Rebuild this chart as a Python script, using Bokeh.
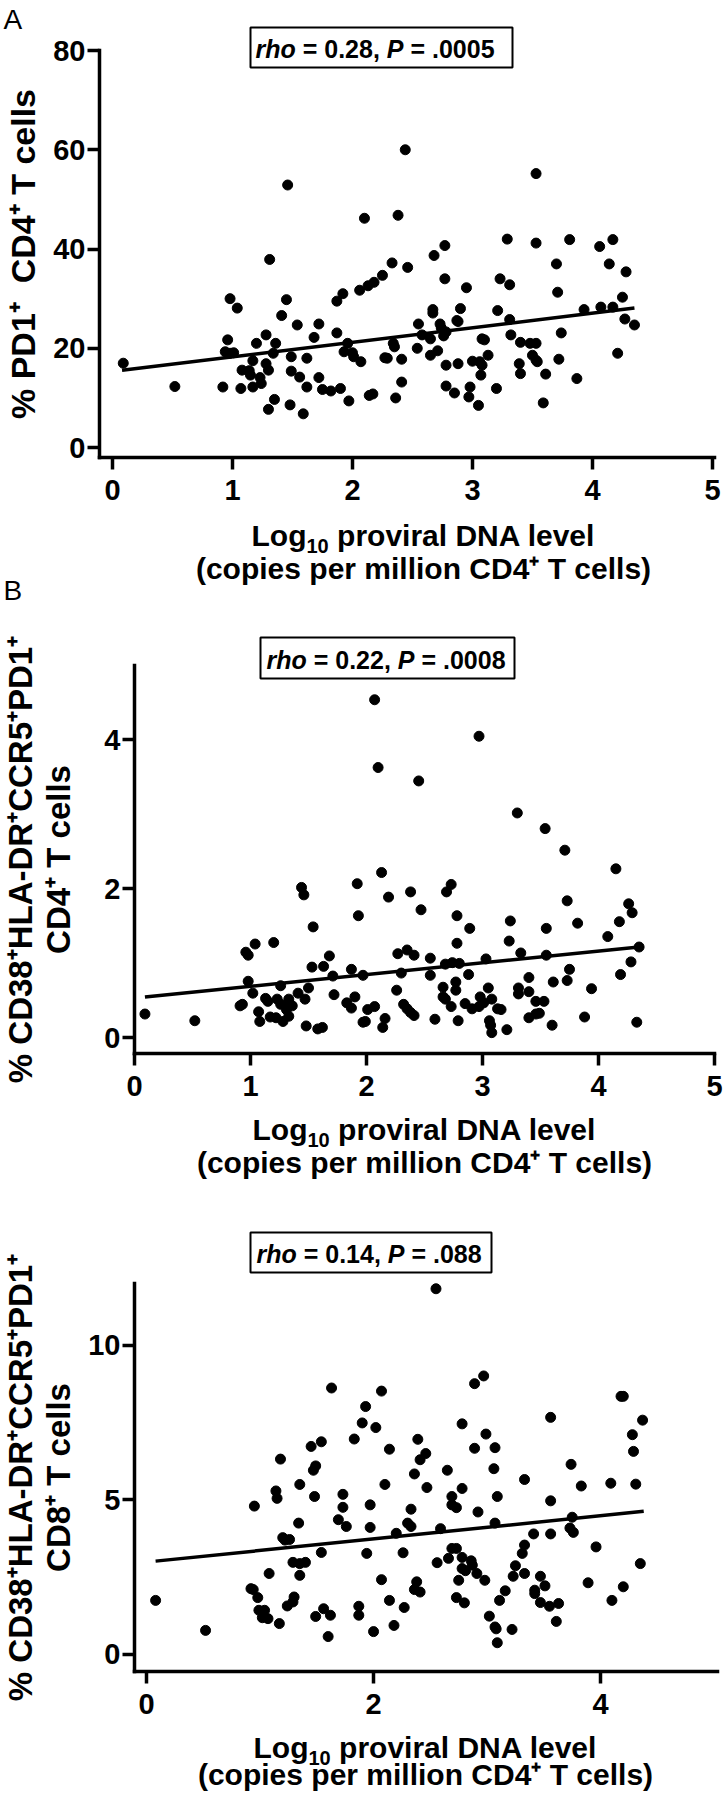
from bokeh.plotting import figure
from bokeh.models import Range1d, FixedTicker, Label, BoxAnnotation
from bokeh.layouts import column
from bokeh.embed import file_html
from bokeh.resources import INLINE

# ---------------- data ----------------
a_x = [2.44, 1.46, 3.53, 2.10, 2.38, 1.31, 3.29, 3.53, 3.81, 4.06, 4.17, 2.77, 2.68, 2.33, 2.46, 3.70, 4.14, 4.28,
       2.25, 2.77, 3.23, 3.31, 2.95, 2.18, 2.13, 2.06, 1.92, 3.71, 4.25, 0.98, 1.45, 1.87,
       1.04, 1.41, 3.93, 4.07, 4.17, 2.67, 2.67, 2.90, 3.21, 3.31, 4.27, 4.35, 4.21, 1.54, 1.72, 2.55, 2.73, 2.74,
       2.87, 2.88, 2.78, 3.74, 3.32, 2.58, 1.87, 1.68, 1.28, 0.96, 2.65, 2.76, 3.08, 3.10, 3.40, 3.48, 3.53, 1.36,
       1.20, 2.34, 1.96, 2.35, 2.54, 2.71, 0.94, 1.01, 0.98, 1.34, 1.93, 2.00, 2.01, 2.65, 3.13, 3.50, 3.39, 1.49,
       1.62, 2.07, 2.27, 2.29, 2.41, 3.53, 3.72, 1.17, 3.00, 3.06, 3.08, 2.78, 2.88, 3.54, 1.28, 1.30, 1.08, 1.14,
       1.49, 3.40, 3.61, 3.07, 1.15, 1.23, 1.56, 1.72, 3.87, 2.41, 1.24, 0.52, 0.92, 1.07, 1.17, 1.62, 1.75, 1.82,
       1.90, 2.78, 2.85, 2.98, 3.20, 2.14, 2.17, 1.35, 1.97, 2.36, 2.97, 3.59, 1.48, 1.30, 3.05, 1.59, 0.09]
a_y = [60.0, 52.9, 55.2, 46.2, 46.8, 37.9, 42.0, 41.2, 41.9, 40.5, 41.9, 40.7, 38.7, 37.2, 36.3, 37.0, 37.0, 35.4,
       34.7, 34.0, 34.0, 32.8, 32.2, 33.3, 32.6, 31.7, 31.0, 31.3, 30.3, 30.0, 29.8, 29.5,
       28.1, 26.6, 27.8, 28.3, 28.3, 27.8, 27.1, 28.0, 27.6, 25.8, 25.9, 24.7, 19.0, 24.7, 24.9, 24.9, 24.9, 24.1,
       25.6, 25.4, 23.3, 23.1, 22.7, 22.7, 23.1, 22.2, 22.7, 21.7, 21.9, 22.5, 21.9, 21.7, 21.2, 21.0, 21.0, 21.0,
       21.0, 21.0, 21.0, 20.3, 20.0, 19.5, 19.3, 19.1, 19.0, 19.0, 19.3, 19.1, 18.3, 18.6, 18.6, 18.6, 16.9, 18.3,
       18.0, 17.3, 18.1, 18.0, 17.8, 17.6, 17.8, 17.5, 17.4, 17.3, 16.6, 16.6, 16.9, 17.3, 16.9, 15.6, 15.6, 15.5,
       15.4, 14.9, 14.8, 14.6, 14.6, 14.1, 14.2, 14.1, 13.9, 13.2, 12.9, 12.3, 12.2, 11.9, 12.2, 12.2, 11.7, 11.4,
       11.9, 12.4, 11.0, 12.2, 11.9, 10.5, 10.8, 9.7, 9.4, 10.0, 10.2, 9.0, 8.6, 7.7, 8.5, 6.8, 17.0]
a_fit_x = [0.08, 4.35]
a_fit_y = [15.6, 28.1]

b_x = [2.07, 2.97, 2.10, 2.45, 3.30, 3.54, 3.71, 4.15, 2.13, 1.92, 2.73, 1.44, 1.46, 2.38, 2.69, 2.19, 3.73, 4.26,
       4.29, 2.47, 1.93, 2.78, 3.24, 3.82, 4.18, 1.54, 2.89, 3.55,
       4.08, 3.23, 2.78, 1.04, 1.20, 0.96, 0.98, 2.27, 2.35, 2.41, 1.68, 2.55, 3.33, 3.55, 4.35, 4.28, 1.53, 1.63,
       2.68, 2.74, 2.80, 3.03, 1.87, 1.71, 1.97, 2.30, 2.55, 2.88, 3.75, 4.19, 0.98, 3.73, 3.61, 3.40, 2.77, 2.66,
       3.05, 1.02, 1.26, 1.50, 1.41, 1.72, 1.90, 2.26, 2.77, 3.31, 3.40, 3.94, 3.31, 1.13, 1.23, 1.15, 1.33, 1.47,
       2.66, 2.68, 2.98, 3.08, 3.46, 3.53, 0.91, 0.93, 1.26, 1.32, 1.36, 1.83, 1.87, 2.07, 2.01, 2.32, 2.35, 2.73,
       2.85, 2.91, 2.97, 3.01, 3.13, 3.16, 1.07, 1.31, 2.38, 2.41, 0.09, 1.17, 1.22, 1.33, 3.46, 3.49, 3.40, 3.88,
       0.52, 1.08, 1.28, 1.99, 1.97, 2.16, 2.59, 2.79, 3.06, 4.33, 1.48, 1.58, 1.62, 2.14, 3.07, 3.60, 3.08, 3.21]
b_y = [4.54, 4.05, 3.63, 3.45, 3.02, 2.81, 2.52, 2.27, 2.22, 2.07, 2.06, 2.02, 1.92, 1.96, 1.96, 1.89, 1.84, 1.80,
       1.68, 1.72, 1.64, 1.64, 1.57, 1.54, 1.56, 1.49, 1.47, 1.47,
       1.36, 1.30, 1.27, 1.26, 1.28, 1.15, 1.11, 1.13, 1.18, 1.11, 1.10, 1.07, 1.14, 1.11, 1.22, 1.02, 0.95, 0.96,
       0.99, 1.01, 1.00, 1.06, 0.92, 0.83, 0.84, 0.87, 0.84, 0.85, 0.92, 0.85, 0.76, 0.77, 0.75, 0.81, 0.75, 0.68,
       0.67, 0.60, 0.70, 0.67, 0.60, 0.58, 0.55, 0.64, 0.64, 0.67, 0.62, 0.66, 0.59, 0.53, 0.52, 0.49, 0.52, 0.52,
       0.55, 0.52, 0.55, 0.52, 0.49, 0.49, 0.43, 0.45, 0.45, 0.41, 0.43, 0.47, 0.40, 0.42, 0.38, 0.45, 0.39, 0.42,
       0.46, 0.39, 0.42, 0.47, 0.39, 0.38, 0.35, 0.38, 0.34, 0.30, 0.32, 0.28, 0.27, 0.29, 0.32, 0.33, 0.27, 0.28,
       0.23, 0.22, 0.22, 0.22, 0.21, 0.26, 0.25, 0.23, 0.23, 0.21, 0.16, 0.12, 0.14, 0.14, 0.17, 0.17, 0.07, 0.11]
b_fit_x = [0.09, 4.35]
b_fit_y = [0.55, 1.22]

c_x = [2.55, 2.97, 2.89, 1.63, 2.07, 4.18, 4.20, 1.93, 3.56, 4.37, 1.90, 2.02, 2.78, 2.99, 4.28, 1.83, 2.39, 1.54,
       1.45, 2.14, 2.89, 3.07, 2.46, 4.29, 1.18, 2.41, 3.74, 1.49, 1.47, 2.65, 3.06, 2.36, 3.33, 1.35, 2.10, 3.83,
       4.09, 4.31, 2.47, 2.78, 1.14, 1.15, 1.73, 1.48, 2.69, 3.09, 3.56, 0.95, 1.73, 1.97, 2.69, 2.73, 2.33, 2.92,
       3.75, 1.34, 1.69, 2.30, 3.07, 1.76, 1.97, 2.33, 2.59, 3.73,
       3.76, 2.20, 3.41, 3.56, 1.20, 1.26, 1.22, 3.33, 3.96, 3.31, 1.54, 1.94, 2.26, 2.69, 2.73, 2.66, 2.78, 2.56,
       2.86, 4.35, 1.29, 1.35, 1.40, 3.25, 2.78, 2.81, 2.87, 2.91, 1.08, 1.35, 3.23, 3.33, 3.47, 2.07, 2.75, 2.98,
       2.38, 3.89, 0.92, 0.94, 2.36, 2.41, 3.16, 3.42, 3.51, 4.20, 3.42, 0.08, 0.98, 1.30, 1.29, 1.24, 2.14, 2.73,
       2.80, 3.11, 3.47, 3.63, 3.55, 4.10, 0.99, 1.04, 1.02, 1.07, 1.56, 1.62, 1.49, 1.87, 1.87, 2.27, 1.17, 2.18,
       3.02, 3.07, 3.08, 3.22, 3.61, 0.52, 2.00, 1.60, 3.09]
c_y = [11.83, 9.01, 8.76, 8.62, 8.52, 8.35, 8.35, 8.02, 7.67, 7.58, 7.49, 7.34, 7.46, 7.13, 7.11, 6.97, 6.96, 6.88,
       6.73, 6.64, 6.67, 6.69, 6.50, 6.57, 6.32, 6.30, 6.15, 6.10, 5.96, 5.96, 6.01, 5.84, 5.66, 5.50, 5.50, 5.45,
       5.54, 5.51, 5.40, 5.37, 5.29, 5.05, 5.18, 5.11, 5.11, 5.11, 4.97, 4.80, 4.76, 4.84, 4.84, 4.75, 4.70, 4.61,
       4.44, 4.25, 4.36, 4.25, 4.25, 4.14, 4.11, 4.14, 4.07, 4.09,
       3.95, 3.92, 3.90, 3.90, 3.78, 3.72, 3.70, 3.54, 3.48, 3.27, 3.30, 3.27, 3.29, 3.43, 3.43, 3.11, 3.14, 2.97,
       3.03, 2.94, 2.98, 2.94, 2.98, 2.87, 2.78, 2.71, 2.89, 2.62, 2.62, 2.56, 2.53, 2.62, 2.53, 2.42, 2.40, 2.40,
       2.35, 2.32, 2.13, 2.10, 2.10, 2.02, 2.06, 2.08, 2.22, 2.19, 1.97, 1.75, 1.84, 1.86, 1.70, 1.57, 1.75, 1.84,
       1.67, 1.75, 1.68, 1.65, 1.56, 1.75, 1.43, 1.43, 1.19, 1.16, 1.48, 1.27, 1.23, 1.56, 1.27, 1.52, 1.00, 0.94,
       1.24, 0.89, 0.83, 0.81, 1.07, 0.78, 0.74, 0.58, 0.38]
c_fit_x = [0.08, 4.38]
c_fit_y = [3.02, 4.63]

a_xticks = [0, 1, 2, 3, 4, 5]
a_yticks = [0, 20, 40, 60, 80]
b_xticks = [0, 1, 2, 3, 4, 5]
b_yticks = [0, 2, 4]
c_xticks = [0, 2, 4]
c_yticks = [0, 5, 10]

a_stat = ["rho", " = 0.28, ", "P", " = .0005"]
b_stat = ["rho", " = 0.22, ", "P", " = .0008"]
c_stat = ["rho", " = 0.14, ", "P", " = .088"]

a_ytitle = ["% PD1\u207a \u00a0CD4\u207a T cells"]
b_ytitle = ["% CD38\u207aHLA-DR\u207aCCR5\u207aPD1\u207a", "CD4\u207a T cells"]
c_ytitle = ["% CD38\u207aHLA-DR\u207aCCR5\u207aPD1\u207a", "CD8\u207a T cells"]
x_title1 = ["Log", "10", " proviral DNA level"]
x_title2 = "(copies per million CD4\u207a T cells)"

FONT = "Liberation Sans"
W = 723
K = 0.3  # observed drop of the alphabetic baseline, as a fraction of the font size

# Arial / Liberation Sans Bold advance widths (per 1000 em)
HB = {' ': 278, '%': 889, '(': 333, ')': 333, '+': 584, ',': 278, '-': 333, '.': 278, '=': 584,
      'A': 722, 'C': 722, 'D': 722, 'H': 722, 'L': 611, 'N': 722, 'P': 667, 'R': 722, 'T': 611,
      'a': 556, 'c': 556, 'e': 556, 'g': 611, 'h': 611, 'i': 278, 'l': 278, 'm': 889, 'n': 611,
      'o': 611, 'p': 611, 'r': 389, 's': 556, 'v': 556}


def tw(s, size):
    return sum(HB.get(ch, 556) for ch in s) / 1000.0 * size


def to_data(g, px, py):
    x = g["x0"] + (px - g["fl"]) / (g["fr"] - g["fl"]) * (g["x1"] - g["x0"])
    y = g["y1"] - (py - g["ft"]) / (g["fb"] - g["ft"]) * (g["y1"] - g["y0"])
    return x, y


def make_fig(g):
    # the plotting frame fills the whole canvas; axes are pinned inside it
    xs, ye = to_data(g, 0, g["top"])
    xe, ys = to_data(g, W, g["top"] + g["height"])
    p = figure(width=W, height=g["height"], output_backend="svg", toolbar_location=None,
               x_range=Range1d(xs, xe), y_range=Range1d(ys, ye),
               min_border_left=0, min_border_right=0, min_border_top=0, min_border_bottom=0)
    p.outline_line_color = None
    p.background_fill_color = "white"
    p.border_fill_color = "white"
    p.xgrid.visible = False
    p.ygrid.visible = False
    return p


def style_axes(p, g, xt, yt):
    for ax, ticks in ((p.xaxis[0], xt), (p.yaxis[0], yt)):
        ax.ticker = FixedTicker(ticks=ticks)
        ax.axis_line_width = 3.5
        ax.axis_line_color = "black"
        ax.axis_line_cap = "square"
        ax.major_tick_line_width = 3.5
        ax.major_tick_line_color = "black"
        ax.major_tick_out = 12
        ax.major_tick_in = 0
        ax.minor_tick_line_color = None
        ax.major_label_text_font = FONT
        ax.major_label_text_font_style = "bold"
        ax.major_label_text_font_size = "29px"
        ax.major_label_text_color = "black"
    p.xaxis[0].fixed_location = g["y0"]
    p.xaxis[0].bounds = (g["x0"], g["x1"])
    p.yaxis[0].fixed_location = g["x0"]
    p.yaxis[0].bounds = (g["y0"], g["y1"])
    p.xaxis[0].major_label_standoff = 10
    p.yaxis[0].major_label_standoff = 2


def txt(p, g, px, py, text, size, style="bold", align="left", angle=0):
    lead = len(text) - len(text.lstrip(" "))
    if angle == 0:
        if align == "left":
            px = px + tw(" " * lead, size)
        py = py - K * size
    else:
        px = px - K * size
    x, y = to_data(g, px, py)
    p.add_layout(Label(x=x, y=y, x_units="data", y_units="data", text=text.strip(" "), text_font=FONT,
                       text_font_size=f"{size}px", text_font_style=style, text_align=align,
                       text_baseline="alphabetic", angle=angle, angle_units="deg", text_color="black"))


def stat_box(p, g, box, tx, base, segs):
    l, r, t, b = box
    x0, y0 = to_data(g, l, b)
    x1, y1 = to_data(g, r, t)
    p.add_layout(BoxAnnotation(left=x0, right=x1, bottom=y0, top=y1, fill_color="white", fill_alpha=1.0,
                               line_color="black", line_width=2, line_alpha=1.0))
    x = tx
    for i, s in enumerate(segs):
        style = "bold italic" if i in (0, 2) else "bold"
        txt(p, g, x, base, s, 25, style)
        x += tw(s, 25)


def x_title(p, g, cx, base1, base2):
    big, small = 30, 20
    total = tw(x_title1[0], big) + tw(x_title1[1], small) + tw(x_title1[2], big)
    x = cx - total / 2
    txt(p, g, x, base1, x_title1[0], big)
    x += tw(x_title1[0], big)
    txt(p, g, x, base1 + 7, x_title1[1], small)
    x += tw(x_title1[1], small)
    txt(p, g, x, base1, x_title1[2], big)
    txt(p, g, cx, base2, x_title2, big, align="center")


def panel(g, xs, ys, fx, fy, xt, yt):
    p = make_fig(g)
    style_axes(p, g, xt, yt)
    p.line(fx, fy, line_width=3.5, line_color="black")
    p.scatter(xs, ys, size=10, marker="circle", fill_color="black", line_color="black")
    return p


GA = dict(fl=99, fr=714, ft=50, fb=457, x0=-0.108, x1=5.017, y0=-2.0, y1=80.0, top=0, height=610)
GB = dict(fl=134, fr=714, ft=665, fb=1053, x0=0.0, x1=5.0, y0=-0.21, y1=5.0, top=610, height=595)
GC = dict(fl=134, fr=717, ft=1283, fb=1671, x0=-0.106, x1=5.03, y0=-0.55, y1=12.0, top=1205, height=589)

pA = panel(GA, a_x, a_y, a_fit_x, a_fit_y, a_xticks, a_yticks)
stat_box(pA, GA, (250, 512, 27, 67), 255, 56, a_stat)
txt(pA, GA, 33, 253.5, a_ytitle[0], 34, align="center", angle=90)
x_title(pA, GA, 423, 544, 577)
txt(pA, GA, 3, 27, "A", 28, style="normal")
txt(pA, GA, 3, 598, "B", 28, style="normal")

pB = panel(GB, b_x, b_y, b_fit_x, b_fit_y, b_xticks, b_yticks)
stat_box(pB, GB, (260, 514, 637, 678), 266, 667, b_stat)
txt(pB, GB, 30, 859, b_ytitle[0], 33, align="center", angle=90)
txt(pB, GB, 68, 859, b_ytitle[1], 33, align="center", angle=90)
x_title(pB, GB, 424, 1138, 1171)

pC = panel(GC, c_x, c_y, c_fit_x, c_fit_y, c_xticks, c_yticks)
stat_box(pC, GC, (250, 491, 1232, 1272), 256, 1261, c_stat)
txt(pC, GC, 30, 1477, c_ytitle[0], 33, align="center", angle=90)
txt(pC, GC, 68, 1477, c_ytitle[1], 33, align="center", angle=90)
x_title(pC, GC, 425, 1756, 1783)

layout = column(pA, pB, pC)
open("out.html", "w").write(file_html(layout, INLINE))
